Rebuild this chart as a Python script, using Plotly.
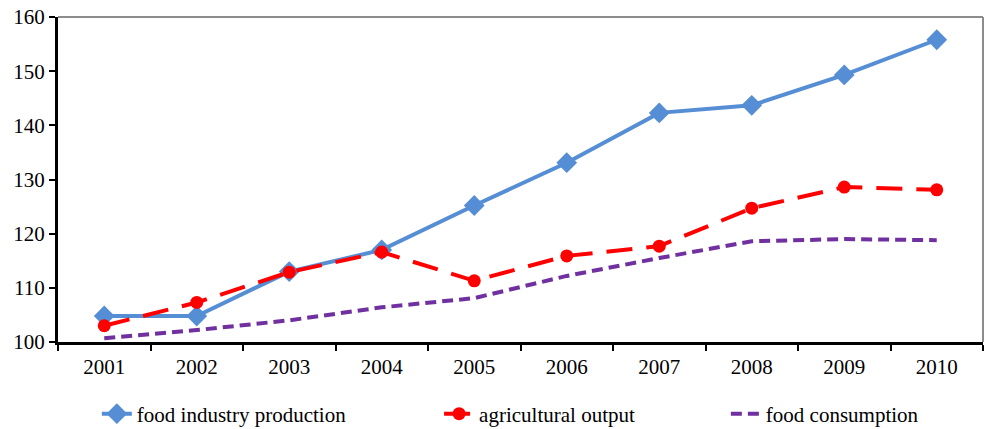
import plotly.graph_objects as go

years = ["2001", "2002", "2003", "2004", "2005", "2006", "2007", "2008", "2009", "2010"]
food_industry = [104.8, 104.8, 113.0, 117.0, 125.2, 133.1, 142.3, 143.7, 149.3, 155.8]
agricultural = [103.0, 107.3, 112.9, 116.6, 111.3, 115.9, 117.7, 124.7, 128.6, 128.1]
consumption = [100.7, 102.2, 104.0, 106.4, 108.1, 112.2, 115.5, 118.6, 119.0, 118.8]
y_ticks = [100, 110, 120, 130, 140, 150, 160]

FONT = "Liberation Serif, Times New Roman, serif"
FSIZE = 21

fig = go.Figure()
fig.add_trace(go.Scatter(
    x=years, y=food_industry, name="food industry production", mode="lines+markers",
    line=dict(color="#558ED5", width=4),
    marker=dict(symbol="diamond", size=16, color="#558ED5"),
    legend="legend",
))
fig.add_trace(go.Scatter(
    x=years, y=agricultural, name="agricultural output", mode="lines+markers",
    line=dict(color="#FF0000", width=4, dash="26px,14px"),
    marker=dict(symbol="circle", size=13, color="#FF0000"),
    legend="legend2",
))
fig.add_trace(go.Scatter(
    x=years, y=consumption, name="food consumption", mode="lines",
    line=dict(color="#7030A0", width=4, dash="11px,6px"),
    legend="legend3",
))

legend_common = dict(
    orientation="h", xref="paper", yref="container", yanchor="middle",
    y=0.035, font=dict(family=FONT, size=FSIZE, color="#000000"),
    bgcolor="rgba(0,0,0,0)",
)

fig.update_layout(
    width=984, height=429,
    margin=dict(l=58, r=1, t=17, b=87, autoexpand=False),
    paper_bgcolor="white", plot_bgcolor="white",
    font=dict(family=FONT, size=FSIZE, color="#000000"),
    showlegend=True,
    legend=dict(x=0.042, **legend_common),
    legend2=dict(x=0.412, **legend_common),
    legend3=dict(x=0.722, **legend_common),
    xaxis=dict(
        type="category", range=[-0.5, len(years) - 0.5],
        showgrid=False, tickson="boundaries",
        ticks="outside", ticklen=6, tickwidth=2, tickcolor="#000000",
        showline=True, linecolor="#000000", linewidth=3,
        tickfont=dict(family=FONT, size=FSIZE), zeroline=False,
        automargin=False, ticklabelstandoff=4,
    ),
    yaxis=dict(
        range=[100, 160], tickvals=y_ticks, showgrid=False,
        ticks="outside", ticklen=6, tickwidth=2, tickcolor="#000000",
        showline=True, linecolor="#000000", linewidth=3,
        tickfont=dict(family=FONT, size=FSIZE), zeroline=False,
        automargin=False,
    ),
    shapes=[
        dict(type="line", xref="paper", yref="paper", x0=0, x1=1, y0=1, y1=1,
             line=dict(color="#8C8C8C", width=2), layer="below"),
        dict(type="line", xref="paper", yref="paper", x0=1, x1=1, y0=0, y1=1,
             line=dict(color="#8C8C8C", width=2), layer="below"),
    ],
)

fig.write_html("out.html")
